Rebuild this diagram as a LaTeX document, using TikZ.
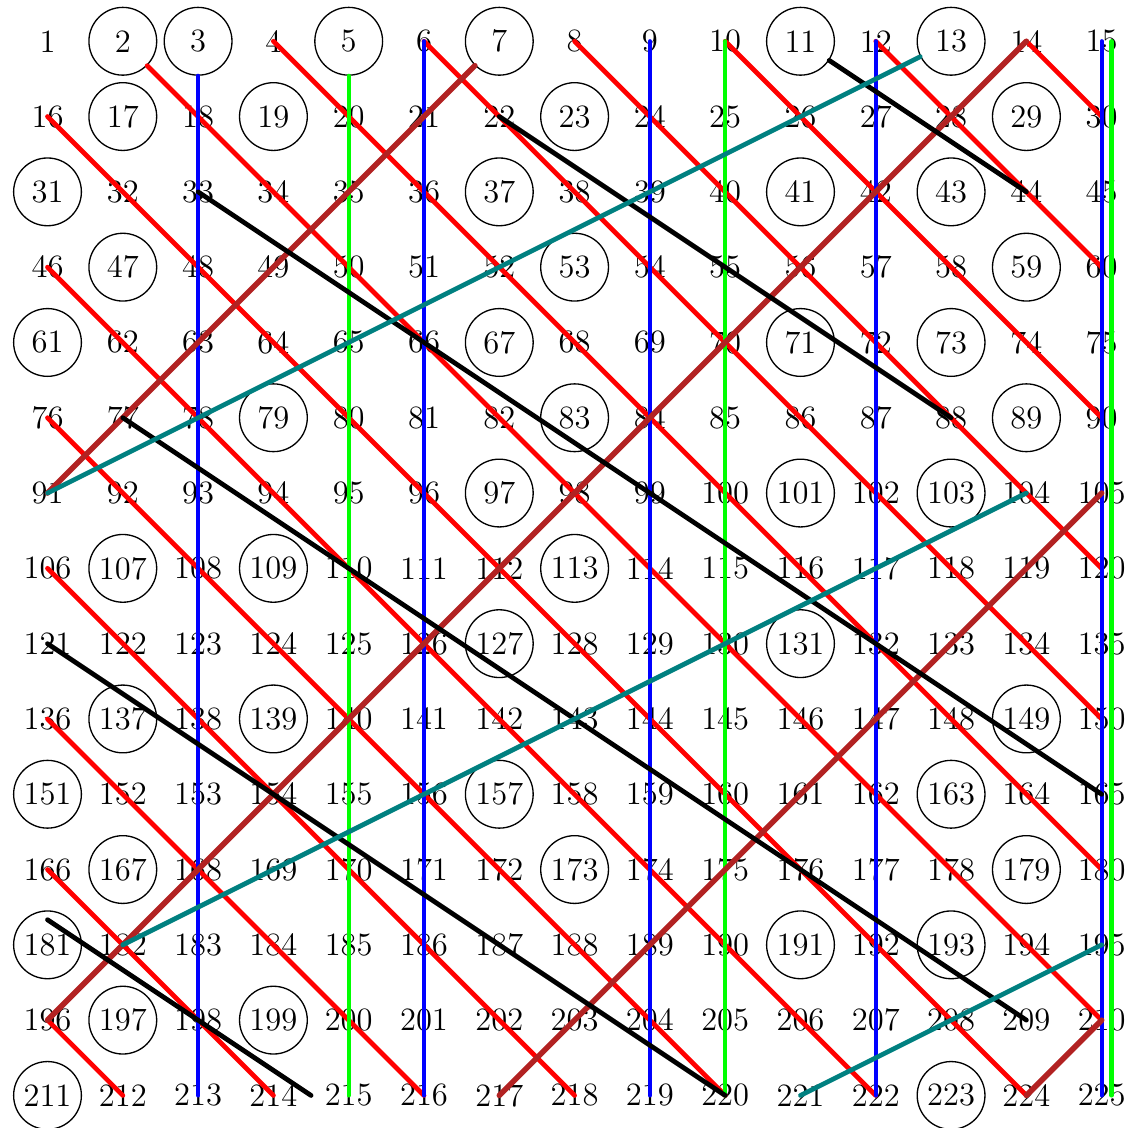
\documentclass[tikz,border=0pt]{standalone}
\usepackage{tikz}
\usetikzlibrary{calc}
\definecolor{brick}{HTML}{B22222}
\definecolor{sieveteal}{HTML}{008080}
\tikzset{
    every picture/.style={line cap=round,line join=round},
    numtext/.style={inner sep=0pt,font=\fontsize{12.3}{14}\selectfont},
    primenode/.style={draw=black,circle,line width=0.5pt,minimum size=9mm,
      inner sep=0pt,font=\fontsize{12.3}{14}\selectfont},
    twoline/.style={draw=red,line width=1.8pt},
    threeline/.style={draw=blue,line width=1.6pt},
    fiveline/.style={draw=green,line width=1.6pt},
    sevenline/.style={draw=brick,line width=2.1pt},
    elevenline/.style={draw=black,line width=1.8pt},
    thirteenline/.style={draw=sieveteal,line width=1.8pt}
}
\foreach \p in {2,3,5,7,11,13,17,19,23,29,31,37,41,43,47,53,59,61,67,71,73,79,83,89,97,
  101,103,107,109,113,127,131,137,139,149,151,157,163,167,173,179,181,191,193,197,199,211,223}
  {\expandafter\gdef\csname isprime\p\endcsname{}}

\begin{document}
\begin{tikzpicture}
    \useasboundingbox (0.369,-0.452) rectangle (15.376,-15.432);
    % the numbers, primes circled
    \foreach \n in {1,...,225}{
        \pgfmathtruncatemacro{\c}{mod(\n-1,15)+1}
        \pgfmathtruncatemacro{\r}{div(\n-1,15)+1}
        \ifcsname isprime\n\endcsname
            \node[primenode] (n\n) at (\c,-\r) {\n};
        \else
            \coordinate (n\n) at (\c,-\r);
            \node[numtext] (t\n) at (n\n) {\n};
        \fi
    }
    % multiples of 2
    \foreach \a/\b in {2/210,4/180,6/150,8/120,10/90,12/60,14/30,
        16/224,46/222,76/220,106/218,136/216,166/214,196/212}
        \draw[twoline] (n\a) -- (n\b);
    % multiples of 3 and 5
    \foreach \a/\b in {3/213,6/216,9/219,12/222,15/225}
        \draw[threeline] (n\a) -- (n\b);
    \foreach \a/\b in {5/215,10/220}
        \draw[fiveline] (n\a) -- (n\b);
    \draw[fiveline] ([xshift=1.3mm]n15) -- ([xshift=1.3mm]n225);
    % multiples of 7
    \foreach \a/\b in {7/91,14/196,105/217,210/224}
        \draw[sevenline] (n\a) -- (n\b);
    % multiples of 11
    \foreach \a/\b in {11/44,22/88,33/165,77/209,121/220}
        \draw[elevenline] (n\a) -- (n\b);
    \coordinate (elfa) at ($(n198)+(-2,4/3)$);
    \coordinate (elfb) at ($(n198)+(1.5,-1)$);
    \draw[elevenline] (elfa) -- (n198) -- (elfb);
    % multiples of 13
    \foreach \a/\b in {13/91,104/182,195/221}
        \draw[thirteenline] (n\a) -- (n\b);
\end{tikzpicture}
\end{document}
